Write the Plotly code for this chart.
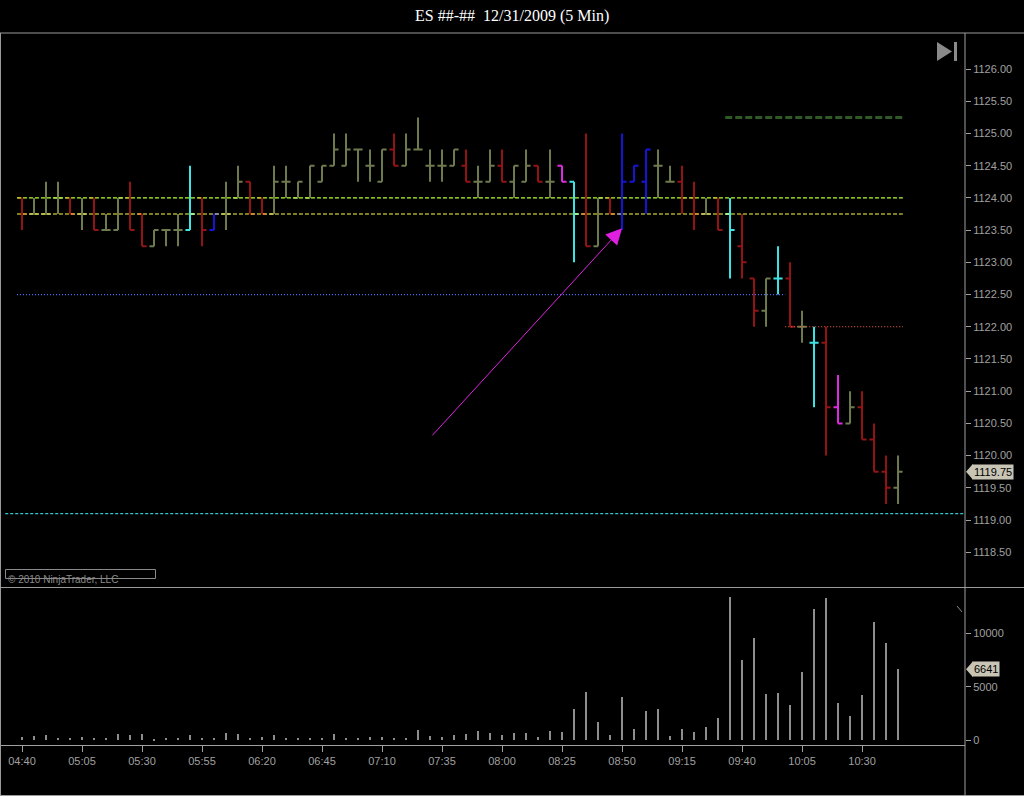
import pandas as pd
import plotly.graph_objects as go

# ---------------- data ----------------
start_time = "2009-12-31 04:40"
n_bars = 74
opens = [1124.00, 1123.75, 1123.75, 1124.00, 1124.00, 1123.75, 1124.00, 1123.50, 1123.50, 1124.00,
         1123.75, 1123.25, 1123.50, 1123.50, 1123.50, 1124.00, 1123.50, 1123.75, 1124.00, 1124.25,
         1124.00, 1123.75, 1124.25, 1124.00, 1124.00, 1124.25, 1124.50, 1124.50, 1124.75, 1124.50,
         1124.25, 1124.75, 1124.50, 1124.75, 1124.50, 1124.50, 1124.50, 1124.50, 1124.25, 1124.25,
         1124.50, 1124.25, 1124.25, 1124.50, 1124.25, 1124.50, 1124.25, 1123.75, 1123.25, 1124.00,
         1123.75, 1124.25, 1124.25, 1124.50, 1124.25, 1124.25, 1124.00, 1123.75, 1124.00, 1123.75,
         1123.25, 1122.75, 1122.25, 1122.75, 1122.75, 1122.00, 1121.75, 1121.75, 1120.75, 1120.50,
         1120.75, 1120.25, 1119.75, 1119.50]
highs = [1124.00, 1124.00, 1124.25, 1124.25, 1124.00, 1124.00, 1124.00, 1123.75, 1124.00, 1124.25,
         1123.75, 1123.50, 1123.50, 1123.75, 1124.50, 1124.00, 1123.75, 1124.25, 1124.50, 1124.25,
         1124.00, 1124.50, 1124.50, 1124.25, 1124.50, 1124.50, 1125.00, 1125.00, 1124.75, 1124.75,
         1124.75, 1125.00, 1125.00, 1125.25, 1124.75, 1124.75, 1124.75, 1124.75, 1124.50, 1124.75,
         1124.75, 1124.50, 1124.75, 1124.50, 1124.75, 1124.50, 1124.25, 1125.00, 1124.00, 1124.00,
         1125.00, 1124.50, 1124.75, 1124.75, 1124.50, 1124.50, 1124.25, 1124.00, 1124.00, 1124.00,
         1123.75, 1122.75, 1122.75, 1123.25, 1123.00, 1122.25, 1122.00, 1122.00, 1121.25, 1121.00,
         1121.00, 1120.50, 1120.00, 1120.00]
lows = [1123.50, 1123.75, 1123.75, 1123.75, 1123.75, 1123.50, 1123.50, 1123.50, 1123.50, 1123.50,
        1123.25, 1123.25, 1123.25, 1123.25, 1123.50, 1123.25, 1123.50, 1123.50, 1124.00, 1123.75,
        1123.75, 1123.75, 1124.00, 1124.00, 1124.00, 1124.25, 1124.50, 1124.50, 1124.25, 1124.25,
        1124.25, 1124.50, 1124.50, 1124.75, 1124.25, 1124.25, 1124.50, 1124.25, 1124.00, 1124.25,
        1124.25, 1124.00, 1124.25, 1124.25, 1124.00, 1124.25, 1123.00, 1123.25, 1123.25, 1123.75,
        1123.50, 1124.25, 1123.75, 1124.00, 1124.25, 1123.75, 1123.50, 1123.75, 1123.50, 1122.75,
        1122.75, 1122.00, 1122.00, 1122.50, 1122.00, 1121.75, 1120.75, 1120.00, 1120.50, 1120.50,
        1120.25, 1119.75, 1119.25, 1119.25]
closes = [1123.75, 1123.75, 1123.75, 1124.00, 1123.75, 1123.75, 1123.50, 1123.50, 1124.00, 1123.50,
          1123.25, 1123.50, 1123.50, 1123.50, 1123.75, 1123.50, 1123.75, 1123.75, 1124.25, 1123.75,
          1123.75, 1124.25, 1124.25, 1124.25, 1124.50, 1124.50, 1124.75, 1124.75, 1124.75, 1124.50,
          1124.75, 1124.50, 1124.75, 1124.75, 1124.50, 1124.50, 1124.75, 1124.25, 1124.25, 1124.50,
          1124.25, 1124.50, 1124.50, 1124.25, 1124.25, 1124.25, 1123.75, 1123.25, 1124.00, 1123.75,
          1124.25, 1124.50, 1124.75, 1124.50, 1124.25, 1124.00, 1123.75, 1123.75, 1123.50, 1123.50,
          1123.00, 1122.25, 1122.75, 1122.75, 1122.00, 1122.00, 1121.75, 1120.75, 1120.50, 1120.75,
          1120.25, 1119.75, 1119.50, 1119.75]
# bar colour classes: G olive, R red, C cyan, B blue, M magenta
bar_class = list("RGGGRGRGGRRGGGCRBGGRRGGGGGGGGGGRGGGGGRGGRGGRGMCRGRBBBGGRRGRCRRGCRGCRMGRRRG")
volumes = [310, 400, 470, 250, 190, 310, 190, 250, 560, 530,
           560, 60, 190, 250, 470, 250, 190, 720, 560, 250,
           340, 500, 190, 190, 190, 250, 560, 250, 250, 310,
           340, 250, 250, 1000, 375, 310, 440, 590, 875, 660,
           480, 690, 690, 310, 875, 780, 2900, 4500, 1720, 470,
           4030, 1030, 2750, 2940, 375, 1030, 750, 1250, 2090, 13440,
           7500, 9590, 4310, 4400, 3280, 6400, 12280, 13310, 3470, 2250,
           4220, 11060, 9125, 6641]
price_ticks = [1118.5, 1119.0, 1119.5, 1120.0, 1120.5, 1121.0, 1121.5, 1122.0,
               1122.5, 1123.0, 1123.5, 1124.0, 1124.5, 1125.0, 1125.5, 1126.0]
volume_ticks = [0, 5000, 10000]
time_ticks = ["04:40", "05:05", "05:30", "05:55", "06:20", "06:45", "07:10", "07:35",
              "08:00", "08:25", "08:50", "09:15", "09:40", "10:05", "10:30"]
level_green = 1124.00
level_yellow = 1123.75
level_blue = 1122.50
level_red = 1122.00
level_darkgreen = 1125.25
level_teal = 1119.10
arrow_tail_price = 1120.29
arrow_tip_price = 1123.53
last_price = 1119.75
last_volume = 6641
title_text = "ES ##-##\u00a0\u00a012/31/2009 (5 Min)"
copyright_text = "\u00a9 2010 NinjaTrader, LLC"

# ---------------- styling ----------------
class_colors = {"G": "#6f7b4e", "R": "#931414", "C": "#3fe3e3", "B": "#1515d8", "M": "#de2cde"}
axis_gray = "#a0a0a0"
W, H = 1024, 796
xr = 965 / W


def px_x(p):
    return p / W


def px_y(p):
    return 1 - p / H


t0 = pd.Timestamp(start_time)
times = pd.date_range(start_time, periods=n_bars, freq="5min")


def bar_time(i):
    return (t0 + pd.Timedelta(minutes=5 * i)).strftime("%Y-%m-%d %H:%M:%S")


fig = go.Figure()

for cls, col in class_colors.items():
    o = [v if c == cls else None for v, c in zip(opens, bar_class)]
    h = [v if c == cls else None for v, c in zip(highs, bar_class)]
    l = [v if c == cls else None for v, c in zip(lows, bar_class)]
    c_ = [v if c == cls else None for v, c in zip(closes, bar_class)]
    fig.add_trace(go.Ohlc(
        x=times, open=o, high=h, low=l, close=c_,
        increasing=dict(line=dict(color=col, width=2)),
        decreasing=dict(line=dict(color=col, width=2)),
        tickwidth=0.38, showlegend=False, hoverinfo="skip",
        xaxis="x", yaxis="y"))

fig.add_trace(go.Bar(
    x=times, y=volumes, marker=dict(color="#8e8e8e", line=dict(width=0)),
    width=45000, showlegend=False, hoverinfo="skip", xaxis="x", yaxis="y2"))

shapes = []


def hline(level, i0, i1, color, dash, width=1):
    shapes.append(dict(type="line", xref="x", yref="y", x0=bar_time(i0), x1=bar_time(i1),
                       y0=level, y1=level, line=dict(color=color, dash=dash, width=width)))


hline(level_green, -0.42, 73.4, "#b8ff2a", "4px,2px", 1.2)
hline(level_yellow, -0.42, 73.4, "#ffff40", "4px,2px", 1.2)
hline(level_blue, -0.42, 63.6, "#4a72ff", "1px,2px", 1.2)
hline(level_red, 63.6, 73.4, "#ff6a50", "1px,2px", 1.2)
hline(level_darkgreen, 58.6, 73.4, "#2f5a26", "7px,3px", 3)
hline(level_teal, -1.4, 78.5, "#34c8d0", "3px,2px", 1.2)

# frame lines
frame = "#9a9a9a"
shapes += [
    dict(type="line", xref="paper", yref="paper", x0=0, x1=1, y0=px_y(33), y1=px_y(33), line=dict(color=frame, width=1)),
    dict(type="line", xref="paper", yref="paper", x0=0, x1=1, y0=px_y(587.5), y1=px_y(587.5), line=dict(color=frame, width=1)),
    dict(type="line", xref="paper", yref="paper", x0=px_x(0.5), x1=px_x(0.5), y0=px_y(33), y1=px_y(796), line=dict(color=frame, width=1)),
    dict(type="line", xref="paper", yref="paper", x0=0, x1=1, y0=px_y(795.5), y1=px_y(795.5), line=dict(color=frame, width=1)),
    dict(type="line", xref="paper", yref="paper", x0=xr, x1=xr, y0=px_y(33), y1=px_y(796), line=dict(color=axis_gray, width=1)),
    # copyright box
    dict(type="rect", xref="paper", yref="paper", x0=px_x(5.5), x1=px_x(155.5), y0=px_y(569.5), y1=px_y(578.5),
         line=dict(color="#8a8a8a", width=1)),
    # play-to-end icon
    dict(type="path", xref="paper", yref="paper",
         path=f"M {px_x(937)},{px_y(42)} L {px_x(952)},{px_y(51.5)} L {px_x(937)},{px_y(61)} Z",
         fillcolor="#8a8a8a", line=dict(width=0)),
    dict(type="rect", xref="paper", yref="paper", x0=px_x(954), x1=px_x(957), y0=px_y(42), y1=px_y(61),
         fillcolor="#8a8a8a", line=dict(width=0)),
    # small slash in volume pane
    dict(type="line", xref="paper", yref="paper", x0=px_x(957), x1=px_x(962), y0=px_y(606), y1=px_y(612),
         line=dict(color="#8a8a8a", width=1)),
]

# last price / last volume pointers
d_p = 8 / 64.4
shapes.append(dict(type="path", xref="paper", yref="y",
                   path=f"M {px_x(966)},{last_price} L {px_x(973)},{last_price + d_p} L {px_x(973)},{last_price - d_p} Z",
                   fillcolor="#c9c5b5", line=dict(width=0)))
d_v = 8 / 106.7 * 10000
shapes.append(dict(type="path", xref="paper", yref="y2",
                   path=f"M {px_x(966)},{last_volume} L {px_x(973)},{last_volume + d_v} L {px_x(973)},{last_volume - d_v} Z",
                   fillcolor="#c9c5b5", line=dict(width=0)))

annotations = [
    dict(text=title_text, xref="paper", yref="paper", x=0.5, y=px_y(16), showarrow=False,
         font=dict(family="Liberation Serif", size=16, color="#ffffff"), xanchor="center", yanchor="middle"),
    dict(text=copyright_text, xref="paper", yref="paper", x=px_x(6), y=px_y(579), showarrow=False,
         font=dict(family="Liberation Sans", size=10, color="#8a8a8a"), xanchor="left", yanchor="middle"),
    dict(text="", x=bar_time(50), y=arrow_tip_price, xref="x", yref="y",
         ax=bar_time(34.08), ay=arrow_tail_price, axref="x", ayref="y",
         showarrow=True, arrowhead=2, arrowsize=3.2, arrowwidth=1, arrowcolor="#e020e0", standoff=0),
    dict(text=f"{last_price:.2f}", xref="paper", yref="y", x=px_x(972), y=last_price, showarrow=False,
         xanchor="left", yanchor="middle", bgcolor="#c9c5b5", borderpad=1,
         font=dict(family="Liberation Sans", size=11, color="#000000")),
    dict(text=f"{last_volume}", xref="paper", yref="y2", x=px_x(972), y=last_volume, showarrow=False,
         xanchor="left", yanchor="middle", bgcolor="#c9c5b5", borderpad=1,
         font=dict(family="Liberation Sans", size=11, color="#000000")),
]

tick_font = dict(family="Liberation Sans", size=11, color=axis_gray)
time_tickvals = [f"2009-12-31 {t}" for t in time_ticks]

fig.update_layout(
    width=W, height=H, margin=dict(l=0, r=0, t=0, b=0),
    paper_bgcolor="#000000", plot_bgcolor="#000000",
    showlegend=False, bargap=0,
    xaxis=dict(domain=[0, xr], anchor="y2", type="date",
               range=[bar_time(-1.833), bar_time(78.58)],
               rangeslider=dict(visible=False),
               tickvals=time_tickvals, ticktext=time_ticks,
               ticks="outside", ticklen=6, tickcolor=axis_gray,
               showline=True, linecolor=axis_gray, linewidth=1,
               showgrid=False, zeroline=False, tickfont=tick_font),
    yaxis=dict(domain=[px_y(587), px_y(33)], anchor="x", side="right",
               range=[1117.96, 1126.56], tickvals=price_ticks,
               ticktext=[f"{v:.2f}" for v in price_ticks],
               ticks="outside", ticklen=5, tickcolor=axis_gray,
               showline=False, showgrid=False, zeroline=False, tickfont=tick_font),
    yaxis2=dict(domain=[px_y(745), px_y(590)], anchor="x", side="right",
                range=[-450, 14060], tickvals=volume_ticks,
                ticktext=[str(v) for v in volume_ticks],
                ticks="outside", ticklen=5, tickcolor=axis_gray,
                showline=False, showgrid=False, zeroline=False, tickfont=tick_font),
    shapes=shapes, annotations=annotations,
)

fig.write_html("out.html", config={"displayModeBar": False},
               post_script="document.body.style.margin='0';document.body.style.overflow='hidden';")
